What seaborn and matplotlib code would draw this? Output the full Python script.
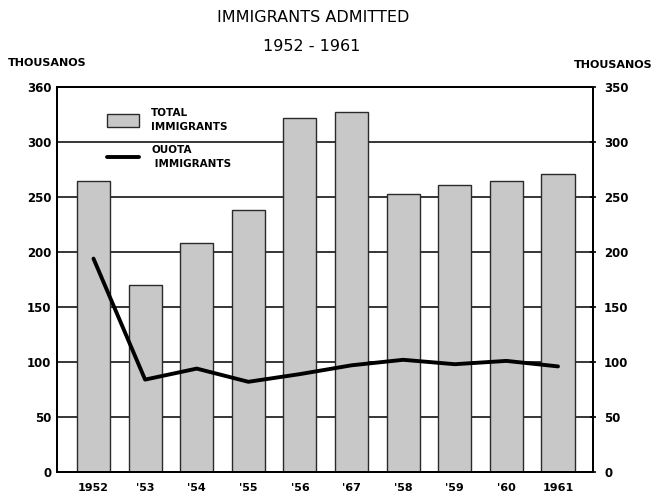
import numpy as np
import pandas as pd
import matplotlib.pyplot as plt
import seaborn as sns
from matplotlib.patches import Patch
from matplotlib.lines import Line2D

# immigrants admitted, thousands
years = ["1952", "'53", "'54", "'55", "'56", "'67", "'58", "'59", "'60", "1961"]
total = [265, 170, 208, 238, 322, 327, 253, 261, 265, 271]
quota = [194, 84, 94, 82, 89, 97, 102, 98, 101, 96]
left_ticks = [0, 50, 100, 150, 200, 250, 300, 350]
left_labels = ["0", "50", "100", "150", "200", "250", "300", "360"]
right_ticks = [0, 50, 100, 150, 200, 250, 300, 350]

df = pd.DataFrame({"year": years, "total": total, "quota": quota, "pos": np.arange(len(years))})

sns.set_style("white")
plt.rcParams["font.family"] = ["DejaVu Sans"]
plt.rcParams["text.color"] = "black"
plt.rcParams["xtick.color"] = "black"
plt.rcParams["ytick.color"] = "black"

fig = plt.figure(figsize=(6.54, 4.98), dpi=100)
ax = fig.add_axes([57 / 654, 26 / 498, 536 / 654, 385 / 498])

# grid lines behind the bars
for t in left_ticks[1:-1]:
    ax.axhline(t, color="black", lw=1.1, zorder=0)

sns.barplot(data=df, x="year", y="total", color="#c8c8c8", width=0.64,
            edgecolor="#2a2a2a", linewidth=1.0, ax=ax, zorder=2)
sns.lineplot(data=df, x="pos", y="quota", color="black", lw=2.8, ax=ax, zorder=3)

ax.set_xlim(-0.707, 9.678)
ax.set_ylim(0, 350)
ax.set_xlabel("")
ax.set_ylabel("")

ax.set_yticks(left_ticks)
ax.set_yticklabels(left_labels, fontsize=8.5)
ax.tick_params(axis="y", length=0, pad=4)
ax.tick_params(axis="x", length=0, pad=8, labelsize=8)
for lab in ax.get_xticklabels() + ax.get_yticklabels():
    lab.set_fontweight("bold")

ax2 = ax.twinx()
ax2.set_ylim(0, 350)
ax2.set_yticks(right_ticks)
ax2.set_yticklabels([str(t) for t in right_ticks], fontsize=8.5, fontweight="bold")
ax2.tick_params(axis="y", length=4, width=1.2, pad=6, direction="inout")

for a in (ax, ax2):
    for s in a.spines.values():
        s.set_color("black")
        s.set_linewidth(1.4)

handles = [Patch(facecolor="#c8c8c8", edgecolor="#2a2a2a", lw=1.0),
           Line2D([], [], color="black", lw=2.8)]
leg = ax.legend(handles, ["TOTAL\nIMMIGRANTS", "OUOTA\n IMMIGRANTS"],
                loc="upper left", bbox_to_anchor=(0.075, 0.97), frameon=False,
                fontsize=7.5, handlelength=3.1, handleheight=1.5,
                labelspacing=1.3, handletextpad=1.2)
for t in leg.get_texts():
    t.set_fontweight("bold")
    t.set_linespacing(1.5)

fig.text(0.479, 0.964, "IMMIGRANTS ADMITTED", ha="center", va="center", fontsize=11.5)
fig.text(0.476, 0.906, "1952 - 1961", ha="center", va="center", fontsize=11.5)
fig.text(0.012, 0.873, "THOUSANOS", ha="left", va="center", fontsize=8, fontweight="bold")
fig.text(0.998, 0.869, "THOUSANOS", ha="right", va="center", fontsize=8, fontweight="bold")

fig.savefig("out.png", dpi=100)
